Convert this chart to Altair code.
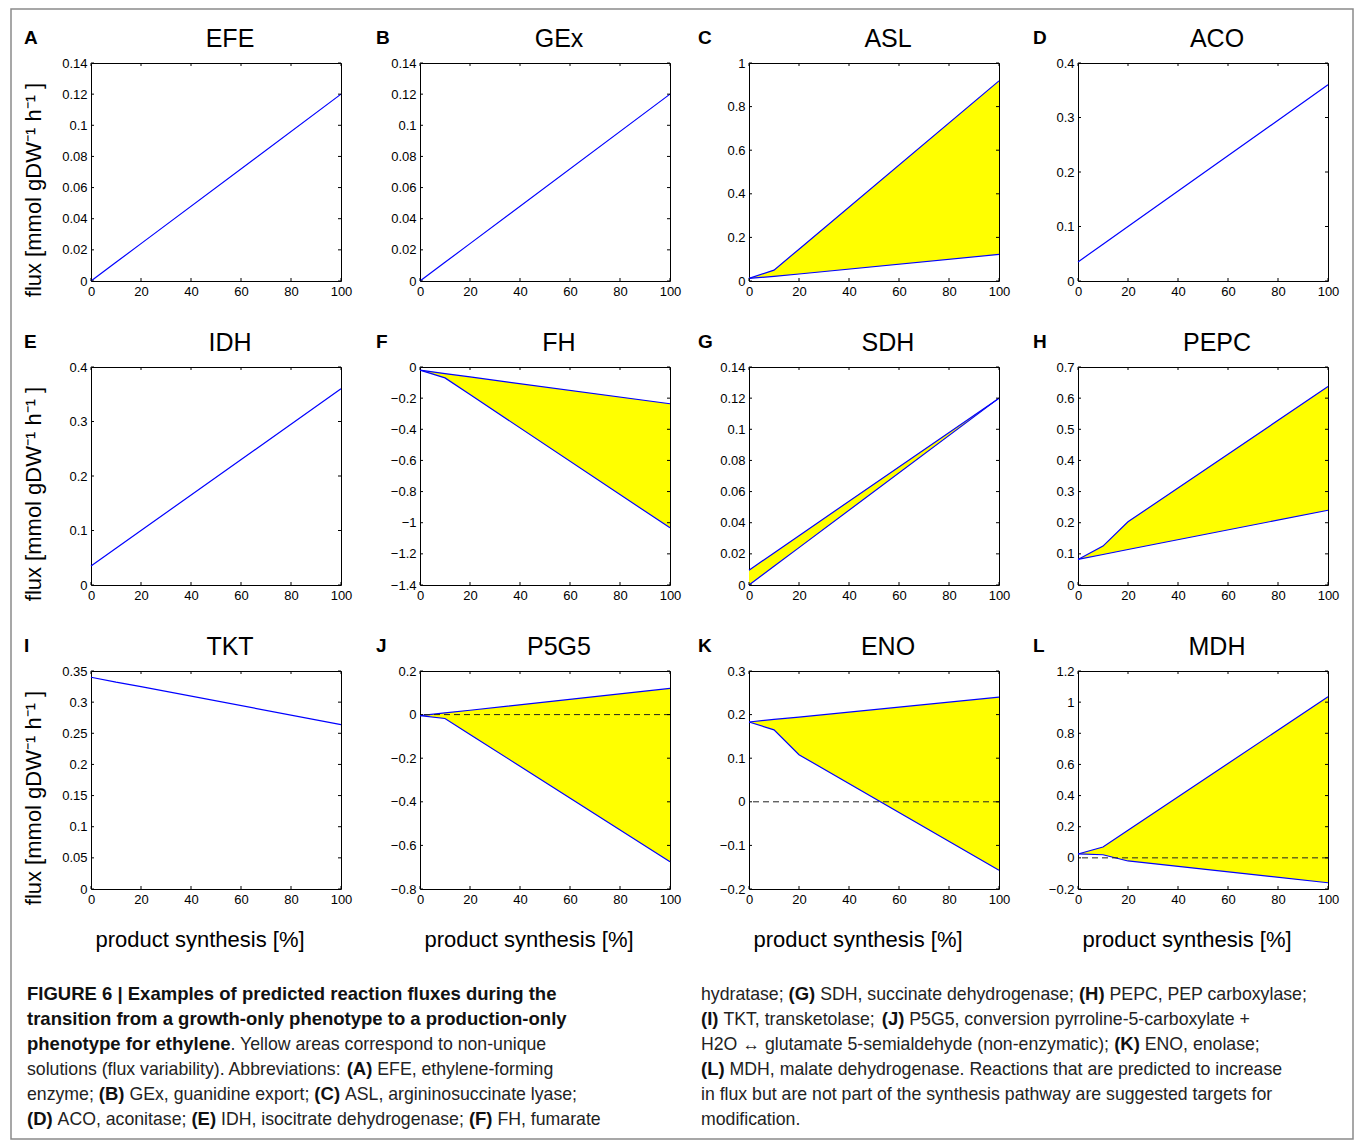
import altair as alt
import pandas as pd

# ---------------- data ----------------
X_PCT = [0, 10, 20, 100]
X_TICKS = [0, 20, 40, 60, 80, 100]

EFE = [0.0, 0.012, 0.024, 0.12]
GEX = [0.0, 0.012, 0.024, 0.12]
ASL_MIN = [0.012, 0.021, 0.032, 0.122]
ASL_MAX = [0.012, 0.05, 0.146, 0.918]
ACO = [0.035, 0.0675, 0.1, 0.36]
IDH = [0.035, 0.0675, 0.1, 0.36]
FH_MIN = [-0.02, -0.07, -0.177, -1.033]
FH_MAX = [-0.02, -0.042, -0.064, -0.236]
SDH_MIN = [0.0, 0.012, 0.024, 0.12]
SDH_MAX = [0.0095, 0.0206, 0.0317, 0.12]
PEPC_MIN = [0.082, 0.098, 0.114, 0.24]
PEPC_MAX = [0.082, 0.125, 0.203, 0.637]
TKT = [0.34, 0.332, 0.325, 0.264]
P5G5_MIN = [-0.005, -0.018, -0.091, -0.675]
P5G5_MAX = [-0.005, 0.008, 0.020, 0.12]
ENO_MIN = [0.183, 0.165, 0.108, -0.157]
ENO_MAX = [0.183, 0.189, 0.194, 0.24]
MDH_MIN = [0.025, 0.02, -0.02, -0.16]
MDH_MAX = [0.025, 0.07, 0.177, 1.035]

T_014 = [0, 0.02, 0.04, 0.06, 0.08, 0.1, 0.12, 0.14]
T_1 = [0, 0.2, 0.4, 0.6, 0.8, 1]
T_04 = [0, 0.1, 0.2, 0.3, 0.4]
T_FH = [-1.4, -1.2, -1, -0.8, -0.6, -0.4, -0.2, 0]
T_07 = [0, 0.1, 0.2, 0.3, 0.4, 0.5, 0.6, 0.7]
T_035 = [0, 0.05, 0.1, 0.15, 0.2, 0.25, 0.3, 0.35]
T_P5G5 = [-0.8, -0.6, -0.4, -0.2, 0, 0.2]
T_ENO = [-0.2, -0.1, 0, 0.1, 0.2, 0.3]
T_MDH = [-0.2, 0, 0.2, 0.4, 0.6, 0.8, 1, 1.2]

LETTERS = ["A", "B", "C", "D", "E", "F", "G", "H", "I", "J", "K", "L"]
TITLES = ["EFE", "GEx", "ASL", "ACO", "IDH", "FH", "SDH", "PEPC", "TKT", "P5G5", "ENO", "MDH"]
LOWS = [EFE, GEX, ASL_MIN, ACO, IDH, FH_MIN, SDH_MIN, PEPC_MIN, TKT, P5G5_MIN, ENO_MIN, MDH_MIN]
HIGHS = [EFE, GEX, ASL_MAX, ACO, IDH, FH_MAX, SDH_MAX, PEPC_MAX, TKT, P5G5_MAX, ENO_MAX, MDH_MAX]
YTICKS = [T_014, T_014, T_1, T_04, T_04, T_FH, T_014, T_07, T_035, T_P5G5, T_ENO, T_MDH]
DASHED_ZERO = [False] * 9 + [True, True, True]

Y_TITLE = "flux [mmol gDW\u207b\u00b9  h\u207b\u00b9 ]"
X_TITLE = "product synthesis [%]"

CAPTION_LEFT = [
    [("FIGURE 6 | Examples of predicted reaction fluxes during the", True)],
    [("transition from a growth-only phenotype to a production-only", True)],
    [("phenotype for ethylene", True), (". Yellow areas correspond to non-unique", False)],
    [("solutions (flux variability). Abbreviations: ", False), ("(A)", True), (" EFE, ethylene-forming", False)],
    [("enzyme; ", False), ("(B)", True), (" GEx, guanidine export; ", False), ("(C)", True),
     (" ASL, argininosuccinate lyase;", False)],
    [("(D)", True), (" ACO, aconitase; ", False), ("(E)", True), (" IDH, isocitrate dehydrogenase; ", False),
     ("(F)", True), (" FH, fumarate", False)],
]
CAPTION_RIGHT = [
    [("hydratase; ", False), ("(G)", True), (" SDH, succinate dehydrogenase; ", False), ("(H)", True),
     (" PEPC, PEP carboxylase;", False)],
    [("(I)", True), (" TKT, transketolase; ", False), ("(J)", True),
     (" P5G5, conversion pyrroline-5-carboxylate +", False)],
    [("H2O \u2194 glutamate 5-semialdehyde (non-enzymatic); ", False), ("(K)", True), (" ENO, enolase;", False)],
    [("(L)", True), (" MDH, malate dehydrogenase. Reactions that are predicted to increase", False)],
    [("in flux but are not part of the synthesis pathway are suggested targets for", False)],
    [("modification.", False)],
]

# ---------------- layout (pixels) ----------------
W, H = 250, 218
COL_SP, ROW_SP = 79, 86
ORIGIN_X, ORIGIN_Y = 90, 62          # absolute position of panel A plot area
TICK = 3
LETTER_DX = [-67, -44, -51, -45]
CAP_LEFT_X, CAP_RIGHT_X = 26, 700
CAP_FIRST_BASELINE, CAP_LINE_STEP = 999, 25
CAP_REG_SIZE, CAP_BOLD_SIZE = 17.7, 18.5

FONT = "Liberation Sans"
BLUE = "#0000FF"
YELLOW = "#FFFF00"

# Arial / Liberation Sans advance widths (1/1000 em) used to lay out mixed-weight caption runs
_REG = {" ": 278, "(": 333, ")": 333, ",": 278, "-": 333, ".": 278, ":": 278, ";": 278, "|": 260,
        "+": 584, "\u2194": 1000, "0": 556, "2": 556, "5": 556, "6": 556,
        "A": 667, "B": 667, "C": 722, "D": 722, "E": 667, "F": 611, "G": 778, "H": 722, "I": 278,
        "J": 500, "K": 667, "L": 556, "M": 833, "N": 722, "O": 778, "P": 667, "R": 722, "S": 667,
        "T": 611, "U": 722, "W": 944, "x": 500,
        "a": 556, "b": 556, "c": 500, "d": 556, "e": 556, "f": 278, "g": 556, "h": 556, "i": 222,
        "j": 222, "k": 500, "l": 222, "m": 833, "n": 556, "o": 556, "p": 556, "q": 556, "r": 333,
        "s": 500, "t": 278, "u": 556, "v": 500, "w": 722, "y": 500, "z": 500}
_BOLD = {" ": 278, "(": 333, ")": 333, ",": 278, "-": 333, ".": 278, ":": 333, ";": 333, "|": 280,
         "6": 556, "A": 722, "B": 722, "C": 722, "D": 722, "E": 667, "F": 611, "G": 778, "H": 722,
         "I": 278, "J": 556, "K": 722, "L": 611, "U": 722, "R": 722,
         "a": 556, "b": 611, "c": 556, "d": 611, "e": 556, "f": 333, "g": 611, "h": 611, "i": 278,
         "l": 278, "m": 889, "n": 611, "o": 611, "p": 611, "r": 389, "s": 556, "t": 333, "u": 611,
         "w": 778, "x": 556, "y": 556}


def text_width(s, bold, size):
    table = _BOLD if bold else _REG
    return sum(table.get(c, 556) for c in s) * size / 1000.0


def one_row():
    return alt.Data(values=[{"k": 0}])


def label(text, x, y, size, weight="normal", align="left", angle=0, color="black"):
    kw = dict(font=FONT, fontSize=size, fontWeight=weight, align=align,
              baseline="alphabetic", color=color, text=text)
    if angle:
        kw["angle"] = angle
    return alt.Chart(one_row()).mark_text(**kw).encode(x=alt.value(x), y=alt.value(y))


def caption_layers(lines, x0):
    out = []
    for k, line in enumerate(lines):
        yb = CAP_FIRST_BASELINE + k * CAP_LINE_STEP - ORIGIN_Y
        x = x0
        for txt, bold in line:
            size = CAP_BOLD_SIZE if bold else CAP_REG_SIZE
            lead = len(txt) - len(txt.lstrip(" "))
            trail = len(txt) - len(txt.rstrip(" "))
            core = txt.strip(" ")
            x += lead * text_width(" ", bold, size)
            out.append(label(core, x - ORIGIN_X, yb, size,
                             weight="bold" if bold else "normal",
                             color="#111111" if bold else "#222222"))
            x += text_width(core, bold, size) + trail * text_width(" ", bold, size)
    return out


def panel(i):
    col, row = i % 4, i // 4
    lo, hi, ticks = LOWS[i], HIGHS[i], YTICKS[i]
    xs = alt.Scale(domain=[0, 100], nice=False, zero=False)
    ys = alt.Scale(domain=[ticks[0], ticks[-1]], nice=False, zero=False)
    common = dict(format="~r", title=None, grid=False, ticks=False, domain=False,
                  labelFont=FONT, labelFontSize=13, labelColor="black", labelPadding=4,
                  labelFlush=False, labelOverlap=False)
    xax = alt.Axis(values=X_TICKS, **common)
    yax = alt.Axis(values=ticks, **common)

    def X(f):
        return alt.X(f, type="quantitative", scale=xs, axis=xax)

    def Y(f):
        return alt.Y(f, type="quantitative", scale=ys, axis=yax)

    df = pd.DataFrame({"x": X_PCT, "lo": lo, "hi": hi})
    base = alt.Chart(df)
    layers = []
    ranged = lo != hi
    if ranged:
        layers.append(base.mark_area(color=YELLOW, opacity=1).encode(x=X("x"), y=Y("lo"), y2="hi"))
    layers.append(base.mark_line(color=BLUE, strokeWidth=1.2).encode(x=X("x"), y=Y("hi")))
    if ranged:
        layers.append(base.mark_line(color=BLUE, strokeWidth=1.2).encode(x=X("x"), y=Y("lo")))
    if DASHED_ZERO[i]:
        layers.append(alt.Chart(pd.DataFrame({"z": [0]})).mark_rule(
            color="#222222", strokeDash=[6, 4], strokeWidth=1).encode(y=Y("z")))

    yt = alt.Chart(pd.DataFrame({"t": ticks}))
    xt = alt.Chart(pd.DataFrame({"t": X_TICKS}))
    layers += [
        yt.mark_rule(color="black").encode(y=Y("t"), x=alt.value(0), x2=alt.value(TICK)),
        yt.mark_rule(color="black").encode(y=Y("t"), x=alt.value(W - TICK), x2=alt.value(W)),
        xt.mark_rule(color="black").encode(x=X("t"), y=alt.value(H - TICK), y2=alt.value(H)),
        xt.mark_rule(color="black").encode(x=X("t"), y=alt.value(0), y2=alt.value(TICK)),
    ]

    layers.append(label(TITLES[i], W / 2 + 14, -16, 25, align="center"))
    layers.append(label(LETTERS[i], LETTER_DX[col], -19, 19, weight="bold"))
    if col == 0:
        layers.append(label(Y_TITLE, -50, H / 2 + 18, 22, align="center", angle=270))
    if row == 2:
        layers.append(label(X_TITLE, W / 2 - 16, H + 58, 22, align="center"))

    if i == 0:
        # outer frame of the figure
        layers.append(alt.Chart(one_row()).mark_rect(
            fillOpacity=0, stroke="#8a8a8a", strokeWidth=1.5).encode(
            x=alt.value(10 - ORIGIN_X), x2=alt.value(1352 - ORIGIN_X),
            y=alt.value(8 - ORIGIN_Y), y2=alt.value(1138 - ORIGIN_Y)))
        layers += caption_layers(CAPTION_LEFT, CAP_LEFT_X)
        layers += caption_layers(CAPTION_RIGHT, CAP_RIGHT_X)

    return alt.layer(*layers).properties(width=W, height=H)


panels = [panel(i) for i in range(12)]

chart = alt.concat(
    *panels,
    columns=4,
    spacing={"row": ROW_SP, "column": COL_SP},
    bounds="flush",
    padding={"left": 9, "top": 7, "right": 0, "bottom": 0},
    background="white",
).configure_view(
    stroke="black", strokeWidth=1
)

chart.save("out.html", embed_options={"renderer": "svg", "actions": False})
